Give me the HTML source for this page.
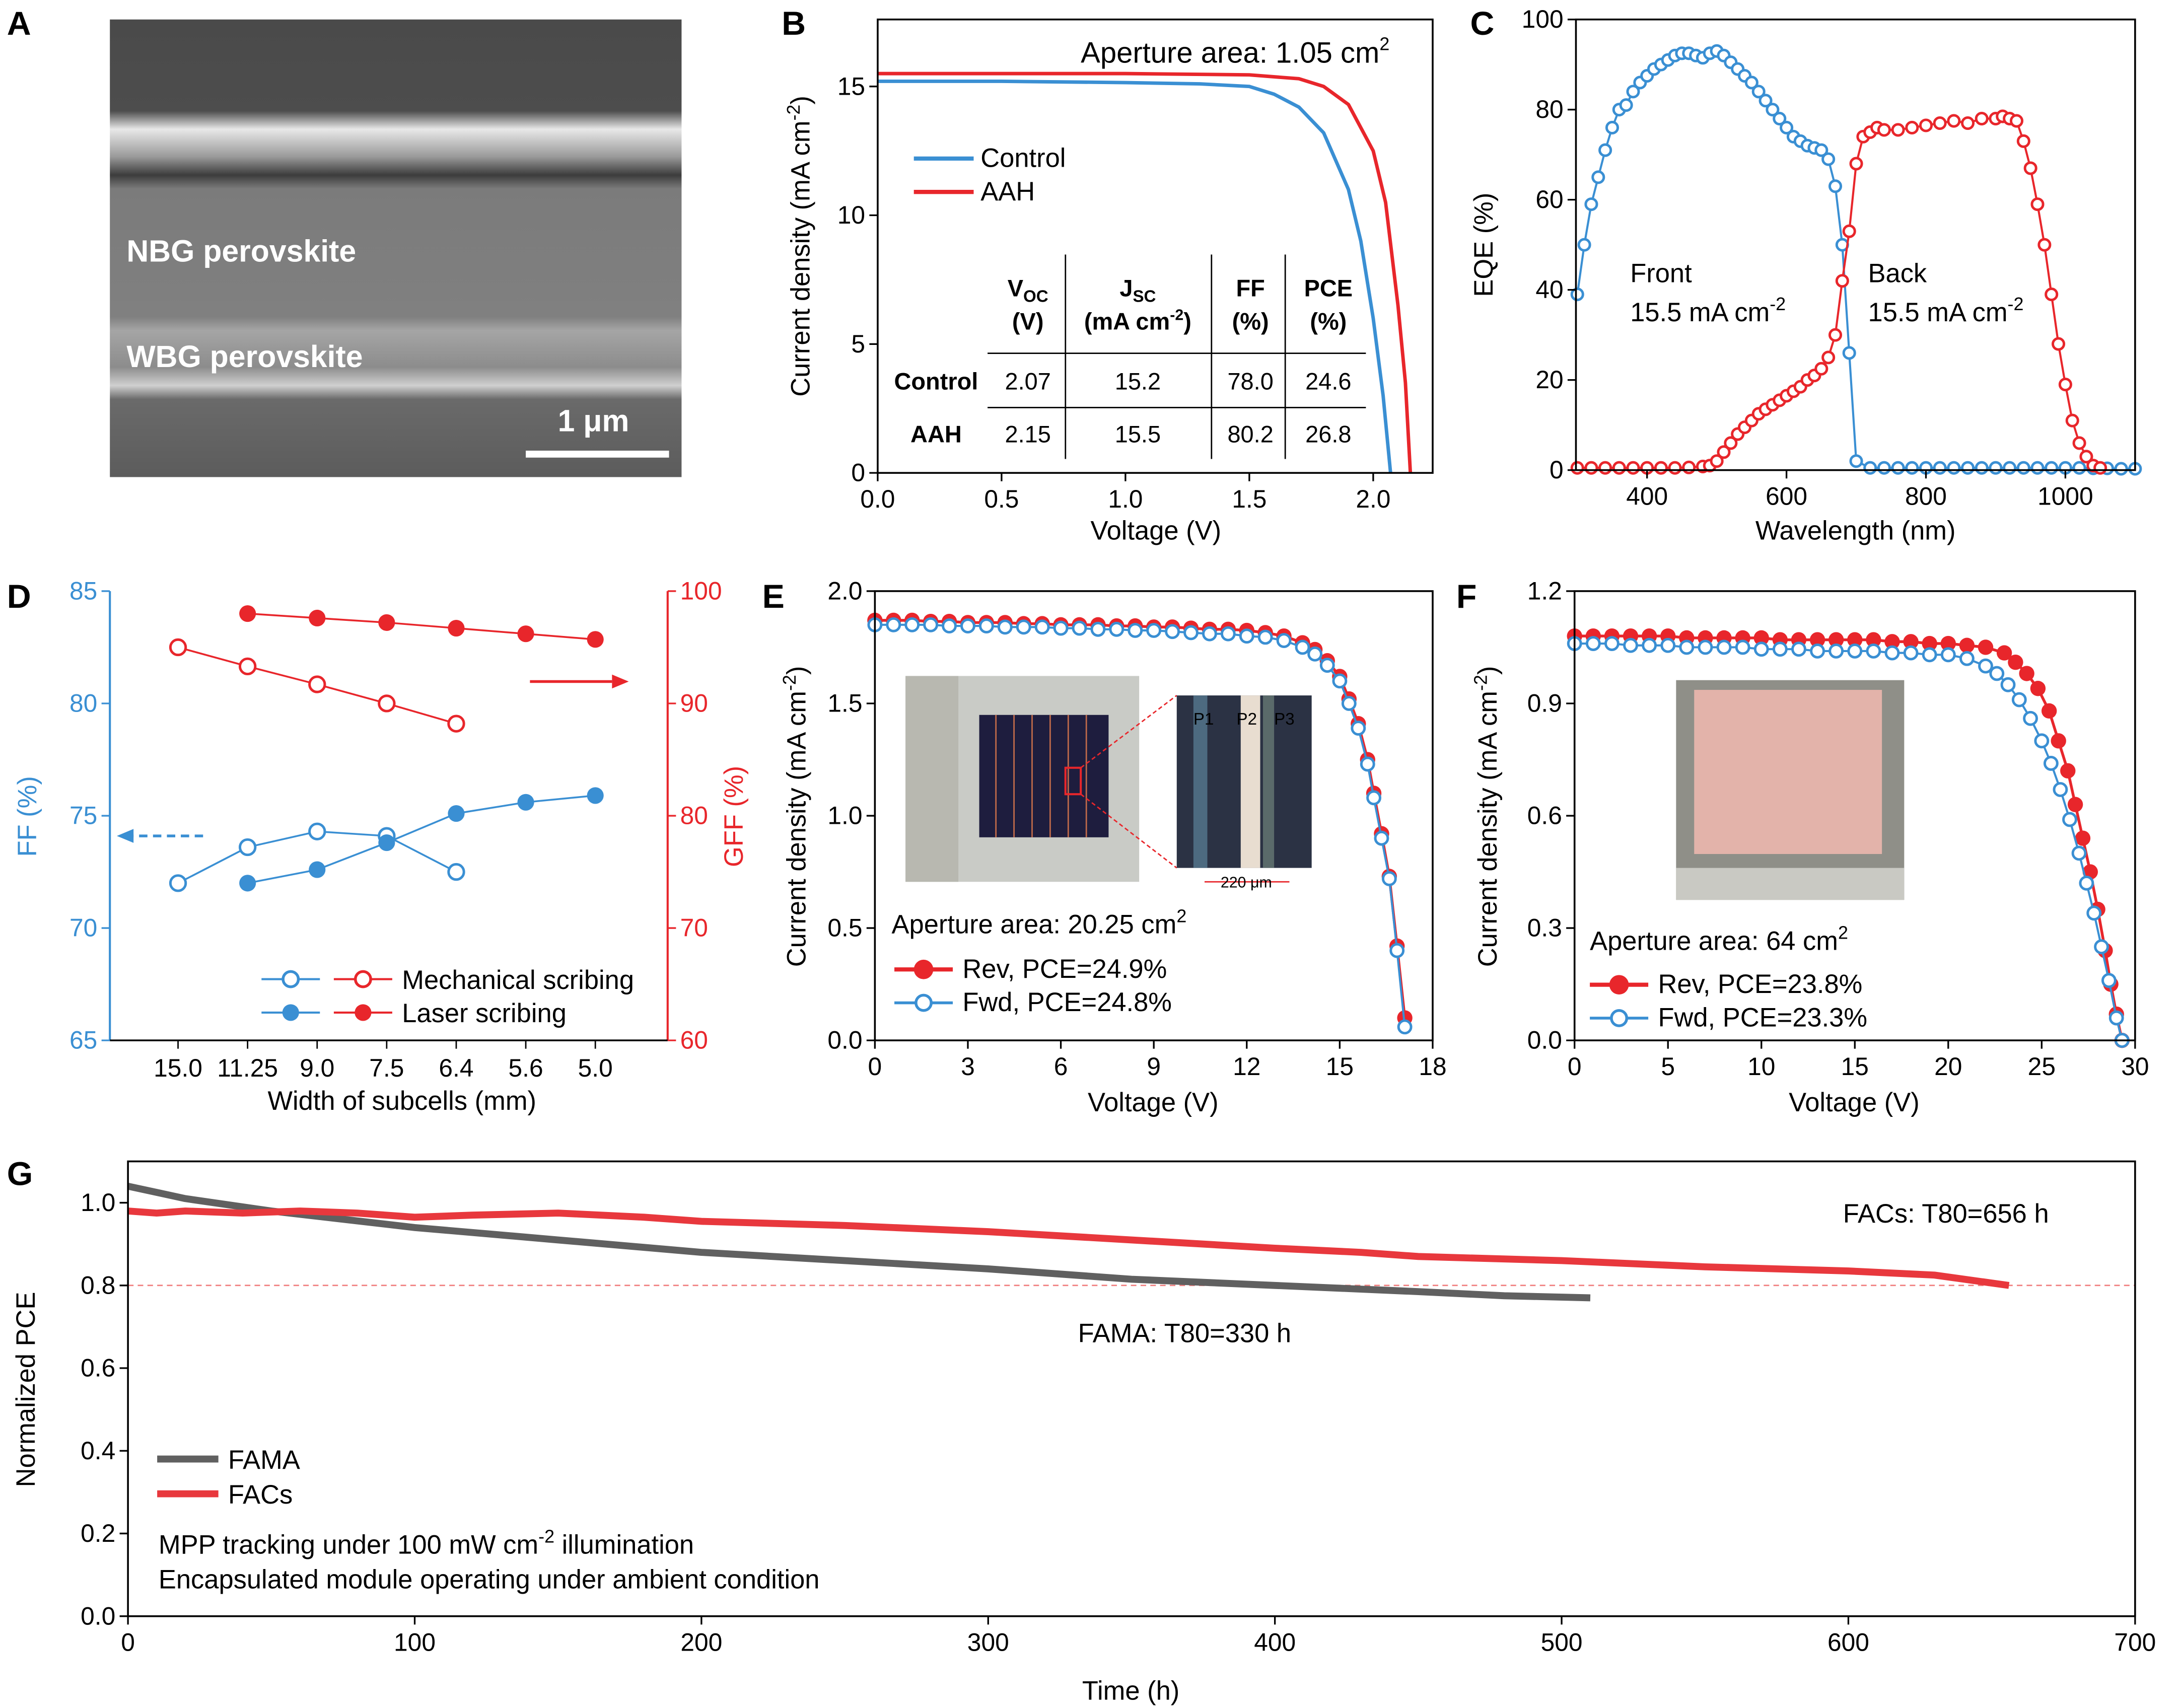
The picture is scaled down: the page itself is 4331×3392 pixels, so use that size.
<!DOCTYPE html>
<html><head><meta charset="utf-8"><style>
html,body{margin:0;padding:0;background:#fff;}
svg{display:block;font-family:"Liberation Sans",Arial,sans-serif;}
</style></head><body>
<svg id="fig" width="4331" height="3392" viewBox="0 0 1568 1228" preserveAspectRatio="none" xmlns="http://www.w3.org/2000/svg">
<defs>
<linearGradient id="semg" x1="0" y1="0" x2="0" y2="1">
<stop offset="0" stop-color="#4a4a4a"/><stop offset="0.2" stop-color="#4d4d4d"/><stop offset="0.24" stop-color="#e8e8e8"/><stop offset="0.3" stop-color="#9a9a9a"/><stop offset="0.34" stop-color="#3c3c3c"/><stop offset="0.37" stop-color="#7b7b7b"/><stop offset="0.65" stop-color="#808080"/><stop offset="0.68" stop-color="#a5a5a5"/><stop offset="0.76" stop-color="#8c8c8c"/><stop offset="0.8" stop-color="#d0d0d0"/><stop offset="0.83" stop-color="#6a6a6a"/><stop offset="1" stop-color="#5c5c5c"/>
</linearGradient>
</defs>
<g font-weight="bold" font-size="24">
<text x="5" y="25">A</text><text x="562" y="25">B</text><text x="1057" y="25">C</text>
<text x="5" y="437">D</text><text x="548" y="437">E</text><text x="1047" y="437">F</text><text x="5" y="852">G</text>
</g>
<g>
<rect x="79" y="14" width="411" height="329" fill="url(#semg)"/>
<text x="91" y="188" fill="#fff" font-size="22" font-weight="bold">NBG perovskite</text>
<text x="91" y="264" fill="#fff" font-size="22" font-weight="bold">WBG perovskite</text>
<text x="401" y="310" fill="#fff" font-size="22" font-weight="bold">1 μm</text>
<rect x="378" y="324" width="103" height="5" fill="#fff"/>
</g>
<g font-size="19">
<text x="777" y="45" font-size="21">Aperture area: 1.05 cm<tspan font-size="13" dy="-9">2</tspan></text>
<line x1="657" y1="114" x2="700" y2="114" stroke="#3a8fd3" stroke-width="3"/><text x="705" y="120">Control</text>
<line x1="657" y1="138" x2="700" y2="138" stroke="#e8262b" stroke-width="3"/><text x="705" y="144">AAH</text>
<g font-size="17" text-anchor="middle">
<text x="739" y="213" font-weight="bold">V<tspan font-size="12" dy="4">OC</tspan></text><text x="739" y="237" font-weight="bold">(V)</text>
<text x="818" y="213" font-weight="bold">J<tspan font-size="12" dy="4">SC</tspan></text><text x="818" y="237" font-weight="bold">(mA cm<tspan font-size="11" dy="-7">-2</tspan><tspan dy="7">)</tspan></text>
<text x="899" y="213" font-weight="bold">FF</text><text x="899" y="237" font-weight="bold">(%)</text>
<text x="955" y="213" font-weight="bold">PCE</text><text x="955" y="237" font-weight="bold">(%)</text>
<text x="673" y="280" font-weight="bold">Control</text><text x="739" y="280">2.07</text><text x="818" y="280">15.2</text><text x="899" y="280">78.0</text><text x="955" y="280">24.6</text>
<text x="673" y="318" font-weight="bold">AAH</text><text x="739" y="318">2.15</text><text x="818" y="318">15.5</text><text x="899" y="318">80.2</text><text x="955" y="318">26.8</text>
</g>
<g stroke="#000" stroke-width="1"><line x1="710" y1="254" x2="982" y2="254"/><line x1="710" y1="293" x2="982" y2="293"/><line x1="766" y1="183" x2="766" y2="330"/><line x1="871" y1="183" x2="871" y2="330"/><line x1="924" y1="183" x2="924" y2="330"/></g>
<text x="831" y="388" text-anchor="middle">Voltage (V)</text>
<text transform="translate(582,177) rotate(-90)" text-anchor="middle">Current density (mA cm<tspan font-size="13" dy="-7">-2</tspan><tspan dy="7">)</tspan></text>
</g>
<g font-size="19">
<text x="1172" y="203">Front</text><text x="1172" y="231">15.5 mA cm<tspan font-size="13" dy="-8">-2</tspan></text>
<text x="1343" y="203">Back</text><text x="1343" y="231">15.5 mA cm<tspan font-size="13" dy="-8">-2</tspan></text>
<text x="1334" y="388" text-anchor="middle">Wavelength (nm)</text>
<text transform="translate(1073,176) rotate(-90)" text-anchor="middle">EQE (%)</text>
</g>
<g font-size="19">
<text x="289" y="798" text-anchor="middle">Width of subcells (mm)</text>
<text transform="translate(26,587) rotate(-90)" text-anchor="middle" fill="#3a8fd3">FF (%)</text>
<text transform="translate(534,587) rotate(-90)" text-anchor="middle" fill="#e8262b">GFF (%)</text>
<line x1="146" y1="601" x2="92" y2="601" stroke="#3a8fd3" stroke-width="2" stroke-dasharray="6,4"/><polygon points="84,601 96,596 96,606" fill="#3a8fd3"/>
<line x1="381" y1="490" x2="440" y2="490" stroke="#e8262b" stroke-width="2"/><polygon points="452,490 440,485 440,495" fill="#e8262b"/>
<line x1="188" y1="704" x2="230" y2="704" stroke="#3a8fd3" stroke-width="1.5"/><circle cx="209" cy="704" r="5.5" fill="#fff" stroke="#3a8fd3" stroke-width="2"/>
<line x1="240" y1="704" x2="282" y2="704" stroke="#e8262b" stroke-width="1.5"/><circle cx="261" cy="704" r="5.5" fill="#fff" stroke="#e8262b" stroke-width="2"/>
<text x="289" y="711">Mechanical scribing</text>
<line x1="188" y1="728" x2="230" y2="728" stroke="#3a8fd3" stroke-width="1.5"/><circle cx="209" cy="728" r="6" fill="#3a8fd3"/>
<line x1="240" y1="728" x2="282" y2="728" stroke="#e8262b" stroke-width="1.5"/><circle cx="261" cy="728" r="6" fill="#e8262b"/>
<text x="289" y="735">Laser scribing</text>
</g>
<g font-size="19">
<rect x="651" y="486" width="168" height="148" fill="#c9cbc6"/><rect x="651" y="486" width="38" height="148" fill="#b8b8b0"/>
<rect x="704" y="514" width="93" height="88" fill="#1e1d3e"/>
<g stroke="#c06a4a" stroke-width="1"><line x1="716" y1="514" x2="716" y2="602"/><line x1="729" y1="514" x2="729" y2="602"/><line x1="742" y1="514" x2="742" y2="602"/><line x1="755" y1="514" x2="755" y2="602"/><line x1="768" y1="514" x2="768" y2="602"/><line x1="781" y1="514" x2="781" y2="602"/></g>
<rect x="766" y="552" width="11" height="19" fill="none" stroke="#e8262b" stroke-width="1.5"/>
<line x1="777" y1="552" x2="846" y2="500" stroke="#e8262b" stroke-dasharray="3,2"/><line x1="777" y1="571" x2="846" y2="624" stroke="#e8262b" stroke-dasharray="3,2"/>
<rect x="846" y="500" width="97" height="124" fill="#2b3244"/><rect x="858" y="500" width="10" height="124" fill="#4d6a80"/><rect x="892" y="500" width="14" height="124" fill="#e8ddd0"/><rect x="908" y="500" width="8" height="124" fill="#5a6a6a"/>
<text x="858" y="521" font-size="12" fill="#000">P1</text><text x="889" y="521" font-size="12">P2</text><text x="916" y="521" font-size="12">P3</text>
<line x1="866" y1="634" x2="927" y2="634" stroke="#e8262b"/><text x="896" y="638" font-size="11" text-anchor="middle" fill="#000">220 μm</text>
<text x="641" y="671">Aperture area: 20.25 cm<tspan font-size="13" dy="-8">2</tspan></text>
<line x1="643" y1="697" x2="685" y2="697" stroke="#e8262b" stroke-width="3"/><circle cx="664" cy="697" r="7" fill="#e8262b"/><text x="692" y="703">Rev, PCE=24.9%</text>
<line x1="643" y1="721" x2="685" y2="721" stroke="#3a8fd3" stroke-width="2"/><circle cx="664" cy="721" r="5.5" fill="#fff" stroke="#3a8fd3" stroke-width="2"/><text x="692" y="727">Fwd, PCE=24.8%</text>
<text x="829" y="799" text-anchor="middle">Voltage (V)</text>
<text transform="translate(579,587) rotate(-90)" text-anchor="middle">Current density (mA cm<tspan font-size="13" dy="-7">-2</tspan><tspan dy="7">)</tspan></text>
</g>
<g font-size="19">
<rect x="1205" y="489" width="164" height="158" fill="#8f8f88"/>
<rect x="1218" y="496" width="135" height="118" fill="#e3b3aa"/>
<rect x="1205" y="624" width="164" height="23" fill="#c9c9c3"/>
<text x="1143" y="683">Aperture area: 64 cm<tspan font-size="13" dy="-8">2</tspan></text>
<line x1="1143" y1="708" x2="1185" y2="708" stroke="#e8262b" stroke-width="3"/><circle cx="1164" cy="708" r="7" fill="#e8262b"/><text x="1192" y="714">Rev, PCE=23.8%</text>
<line x1="1143" y1="732" x2="1185" y2="732" stroke="#3a8fd3" stroke-width="2"/><circle cx="1164" cy="732" r="5.5" fill="#fff" stroke="#3a8fd3" stroke-width="2"/><text x="1192" y="738">Fwd, PCE=23.3%</text>
<text x="1333" y="799" text-anchor="middle">Voltage (V)</text>
<text transform="translate(1076,587) rotate(-90)" text-anchor="middle">Current density (mA cm<tspan font-size="13" dy="-7">-2</tspan><tspan dy="7">)</tspan></text>
</g>
<g font-size="19">
<text x="1325" y="879">FACs: T80=656 h</text>
<text x="775" y="965">FAMA: T80=330 h</text>
<line x1="113" y1="1049" x2="157" y2="1049" stroke="#606060" stroke-width="5"/><text x="164" y="1056">FAMA</text>
<line x1="113" y1="1074" x2="157" y2="1074" stroke="#e8383d" stroke-width="5"/><text x="164" y="1081">FACs</text>
<text x="114" y="1117">MPP tracking under 100 mW cm<tspan font-size="13" dy="-8">-2</tspan><tspan dy="8"> illumination</tspan></text>
<text x="114" y="1142">Encapsulated module operating under ambient condition</text>
<text x="813" y="1222" text-anchor="middle">Time (h)</text>
<text transform="translate(25,999) rotate(-90)" text-anchor="middle">Normalized PCE</text>
</g>
<g id="marks"></g>
</svg>
<script>
const bCtrlV=[0,0.5,1.0,1.3,1.5,1.6,1.7,1.8,1.9,1.95,2.0,2.04,2.07];
const bCtrlJ=[15.2,15.2,15.15,15.1,15.0,14.7,14.2,13.2,11.0,9.0,6.0,3.0,0];
const bAahV=[0,0.5,1.0,1.5,1.7,1.8,1.9,2.0,2.05,2.1,2.13,2.15];
const bAahJ=[15.5,15.5,15.5,15.45,15.3,15.0,14.3,12.5,10.5,6.5,3.5,0];
const bXTicks=[0,0.5,1.0,1.5,2.0];
const bYTicks=[0,5,10,15];
const cFrontWl=[300,310,320,330,340,350,360,370,380,390,400,410,420,430,440,450,460,470,480,490,500,510,520,530,540,550,560,570,580,590,600,610,620,630,640,650,660,670,680,690,700,720,740,760,780,800,820,840,860,880,900,920,940,960,980,1000,1020,1040,1060,1080,1100];
const cFrontEqe=[39,50,59,65,71,76,80,81,84,86,87.5,89,90,91,92,92.5,92.5,92,91.5,92.5,93,92,90.5,89,87.5,86,84,82,80,78,76,74,73,72,71.5,71,69,63,50,26,2,0.5,0.5,0.5,0.5,0.5,0.5,0.5,0.5,0.5,0.5,0.5,0.5,0.5,0.5,0.5,0.5,0.4,0.4,0.3,0.3];
const cBackWl=[300,320,340,360,380,400,420,440,460,480,490,500,510,520,530,540,550,560,570,580,590,600,610,620,630,640,650,660,670,680,690,700,710,720,730,740,760,780,800,820,840,860,880,900,910,920,930,940,950,960,970,980,990,1000,1010,1020,1030,1040,1050];
const cBackEqe=[0.5,0.5,0.5,0.5,0.5,0.5,0.5,0.5,0.6,0.8,1,2,4,6,8,9.5,11,12.5,13.5,14.5,15.5,16.5,17.5,18.5,20,21,22.5,25,30,42,53,68,74,75,76,75.5,75.5,76,76.5,77,77.5,77,78,78,78.5,78,77.5,73,67,59,50,39,28,19,11,6,3,1,0.5];
const cXTicks=[400,600,800,1000];
const cYTicks=[0,20,40,60,80,100];
const dCats=["15.0","11.25","9.0","7.5","6.4","5.6","5.0"];
const dMechFF=[72.0,73.6,74.3,74.1,72.5];
const dLaserFF=[null,72.0,72.6,73.8,75.1,75.6,75.9];
const dMechGFF=[95.0,93.3,91.7,90.0,88.2];
const dLaserGFF=[null,98.0,97.6,97.2,96.7,96.2,95.7];
const dFFTicks=[65,70,75,80,85];
const dGFFTicks=[60,70,80,90,100];
const eRevV=[0,0.6,1.2,1.8,2.4,3,3.6,4.2,4.8,5.4,6,6.6,7.2,7.8,8.4,9,9.6,10.2,10.8,11.4,12,12.6,13.2,13.8,14.2,14.6,15,15.3,15.6,15.9,16.1,16.35,16.6,16.85,17.1];
const eRevJ=[1.87,1.87,1.87,1.865,1.865,1.86,1.86,1.86,1.855,1.855,1.85,1.85,1.85,1.845,1.845,1.84,1.84,1.835,1.83,1.83,1.825,1.815,1.8,1.77,1.74,1.69,1.62,1.52,1.41,1.25,1.1,0.92,0.73,0.42,0.1];
const eFwdV=[0,0.6,1.2,1.8,2.4,3,3.6,4.2,4.8,5.4,6,6.6,7.2,7.8,8.4,9,9.6,10.2,10.8,11.4,12,12.6,13.2,13.8,14.2,14.6,15,15.3,15.6,15.9,16.1,16.35,16.6,16.85,17.1];
const eFwdJ=[1.85,1.85,1.85,1.85,1.845,1.845,1.845,1.84,1.84,1.84,1.835,1.835,1.83,1.83,1.825,1.825,1.82,1.815,1.81,1.81,1.8,1.795,1.78,1.75,1.72,1.67,1.6,1.5,1.39,1.23,1.08,0.9,0.72,0.4,0.06];
const eXTicks=[0,3,6,9,12,15,18];
const eYTicks=[0,0.5,1.0,1.5,2.0];
const fRevV=[0,1,2,3,4,5,6,7,8,9,10,11,12,13,14,15,16,17,18,19,20,21,22,23,23.6,24.2,24.8,25.4,25.9,26.4,26.8,27.2,27.6,28,28.4,28.7,29,29.3];
const fRevJ=[1.08,1.08,1.08,1.08,1.08,1.08,1.075,1.075,1.075,1.075,1.075,1.07,1.07,1.07,1.07,1.07,1.07,1.065,1.065,1.06,1.06,1.055,1.05,1.035,1.01,0.98,0.94,0.88,0.8,0.72,0.63,0.54,0.45,0.35,0.24,0.15,0.07,0];
const fFwdV=[0,1,2,3,4,5,6,7,8,9,10,11,12,13,14,15,16,17,18,19,20,21,22,22.6,23.2,23.8,24.4,25,25.5,26,26.5,27,27.4,27.8,28.2,28.6,29,29.3];
const fFwdJ=[1.06,1.06,1.06,1.055,1.055,1.055,1.05,1.05,1.05,1.05,1.045,1.045,1.045,1.04,1.04,1.04,1.04,1.035,1.035,1.03,1.03,1.02,1.0,0.98,0.95,0.91,0.86,0.8,0.74,0.67,0.59,0.5,0.42,0.34,0.25,0.16,0.06,0];
const fXTicks=[0,5,10,15,20,25,30];
const fYTicks=[0,0.3,0.6,0.9,1.2];
const gFamaT=[0,10,20,35,50,75,100,125,150,200,250,300,350,400,450,480,510];
const gFamaP=[1.04,1.025,1.01,0.995,0.98,0.96,0.94,0.925,0.91,0.88,0.86,0.84,0.815,0.80,0.785,0.775,0.77];
const gFacsT=[0,10,20,40,60,80,100,120,150,180,200,250,300,350,400,430,450,500,550,600,630,656];
const gFacsP=[0.98,0.975,0.98,0.975,0.98,0.975,0.965,0.97,0.975,0.965,0.955,0.945,0.93,0.91,0.89,0.88,0.87,0.86,0.845,0.835,0.825,0.80];
const gXTicks=[0,100,200,300,400,500,600,700];
const gYTicks=[0,0.2,0.4,0.6,0.8,1.0];

const NS="http://www.w3.org/2000/svg";
const root=document.getElementById('marks');
function el(tag,a,p){const e=document.createElementNS(NS,tag);for(const k in a)e.setAttribute(k,a[k]);(p||root).appendChild(e);return e;}
function lin(d0,d1,p0,p1){return v=>p0+(v-d0)/(d1-d0)*(p1-p0);}
function fmt(v,dec){return v.toFixed(dec);}
function frame(x0,y0,x1,y1,name){const r=el('rect',{x:x0,y:y0,width:x1-x0,height:y1-y0,fill:'none',stroke:'#000','stroke-width':1.3});

}
function xticks(ticks,sx,y,dec,name){const g=el('g',{});


ticks.forEach(t=>{el('line',{x1:sx(t),x2:sx(t),y1:y,y2:y+6,stroke:'#000','stroke-width':1.2},g);const tx=el('text',{x:sx(t),y:y+25,'text-anchor':'middle','font-size':18},g);tx.textContent=fmt(t,dec);});}
function yticks(ticks,sy,x,dec,name,color,right){const g=el('g',{});


ticks.forEach(t=>{el('line',{x1:x,x2:right?x+6:x-6,y1:sy(t),y2:sy(t),stroke:color||'#000','stroke-width':1.2},g);const tx=el('text',{x:right?x+9:x-9,y:sy(t)+6,'text-anchor':right?'start':'end','font-size':18,fill:color||'#000'},g);tx.textContent=fmt(t,dec);});}
function line(xs,ys,sx,sy,color,w,name){const pts=xs.map((x,i)=>ys[i]==null?null:sx(x)+','+sy(ys[i])).filter(p=>p).join(' ');const p=el('polyline',{points:pts,fill:'none',stroke:color,'stroke-width':w,'stroke-linejoin':'round'});


return p;}
function dots(xs,ys,sx,sy,color,r,filled,name){const g=el('g',{});


xs.forEach((x,i)=>{if(ys[i]==null)return;el('circle',{cx:sx(x),cy:sy(ys[i]),r:r,fill:filled?color:'#fff',stroke:color,'stroke-width':filled?0:1.8},g);});}

{const sx=lin(0,2.24,631,1030),sy=lin(0,17.6,340,14);
line(bCtrlV,bCtrlJ,sx,sy,'#3a8fd3',2.5,'control-jv-curve');
line(bAahV,bAahJ,sx,sy,'#e8262b',2.5,'aah-jv-curve');
frame(631,14,1030,340,'panel-b-axes');
xticks(bXTicks,sx,340,1,'panel-b-x-ticks');yticks(bYTicks,sy,631,0,'panel-b-y-ticks');}
{const sx=lin(298,1100,1133,1535),sy=lin(0,100,338,14);
line(cFrontWl,cFrontEqe,sx,sy,'#3a8fd3',1.5,'front-eqe-line');dots(cFrontWl,cFrontEqe,sx,sy,'#3a8fd3',4,false,'front-eqe-points');
line(cBackWl,cBackEqe,sx,sy,'#e8262b',1.5,'back-eqe-line');dots(cBackWl,cBackEqe,sx,sy,'#e8262b',4,false,'back-eqe-points');
frame(1133,14,1535,338,'panel-c-axes');
xticks(cXTicks,sx,338,0,'panel-c-x-ticks');yticks(cYTicks,sy,1133,0,'panel-c-y-ticks');}
{const idx=dCats.map((c,i)=>i);const sx=lin(0,6,128,428),sff=lin(65,85,748,425),sg=lin(60,100,748,425);
line(idx,dMechFF,sx,sff,'#3a8fd3',1.3,'mech-ff-line');dots(idx,dMechFF,sx,sff,'#3a8fd3',5.5,false,'mech-ff-points');
line(idx,dLaserFF,sx,sff,'#3a8fd3',1.3,'laser-ff-line');dots(idx,dLaserFF,sx,sff,'#3a8fd3',6,true,'laser-ff-points');
line(idx,dMechGFF,sx,sg,'#e8262b',1.3,'mech-gff-line');dots(idx,dMechGFF,sx,sg,'#e8262b',5.5,false,'mech-gff-points');
line(idx,dLaserGFF,sx,sg,'#e8262b',1.3,'laser-gff-line');dots(idx,dLaserGFF,sx,sg,'#e8262b',6,true,'laser-gff-points');
el('line',{x1:79,x2:79,y1:425,y2:748,stroke:'#3a8fd3','stroke-width':1.5});el('line',{x1:480,x2:480,y1:425,y2:748,stroke:'#e8262b','stroke-width':1.5});el('line',{x1:79,x2:480,y1:748,y2:748,stroke:'#000','stroke-width':1.3});
const g=el('g',{});


dCats.forEach((c,i)=>{el('line',{x1:sx(i),x2:sx(i),y1:748,y2:754,stroke:'#000'},g);const t=el('text',{x:sx(i),y:774,'text-anchor':'middle','font-size':18},g);t.textContent=c;});
yticks(dFFTicks,sff,79,0,'panel-d-ff-ticks','#3a8fd3');yticks(dGFFTicks,sg,480,0,'panel-d-gff-ticks','#e8262b',true);}
{const sx=lin(0,18,629,1030),sy=lin(0,2,748,425);
line(eRevV,eRevJ,sx,sy,'#e8262b',2,'rev-jv-line');dots(eRevV,eRevJ,sx,sy,'#e8262b',5.5,true,'rev-jv-points');
line(eFwdV,eFwdJ,sx,sy,'#3a8fd3',1.5,'fwd-jv-line');dots(eFwdV,eFwdJ,sx,sy,'#3a8fd3',4.5,false,'fwd-jv-points');
frame(629,425,1030,748,'panel-e-axes');
xticks(eXTicks,sx,748,0,'panel-e-x-ticks');yticks(eYTicks,sy,629,1,'panel-e-y-ticks');}
{const sx=lin(0,30,1132,1535),sy=lin(0,1.2,748,425);
line(fRevV,fRevJ,sx,sy,'#e8262b',2,'f-rev-jv-line');dots(fRevV,fRevJ,sx,sy,'#e8262b',5.5,true,'f-rev-jv-points');
line(fFwdV,fFwdJ,sx,sy,'#3a8fd3',1.5,'f-fwd-jv-line');dots(fFwdV,fFwdJ,sx,sy,'#3a8fd3',4.5,false,'f-fwd-jv-points');
frame(1132,425,1535,748,'panel-f-axes');
xticks(fXTicks,sx,748,0,'panel-f-x-ticks');yticks(fYTicks,sy,1132,1,'panel-f-y-ticks');}
{const sx=lin(0,700,92,1535),sy=lin(0,1.1,1162,835);
const t80=el('line',{x1:92,x2:1535,y1:sy(0.8),y2:sy(0.8),stroke:'#f08080','stroke-width':1,'stroke-dasharray':'4,3'});


line(gFamaT,gFamaP,sx,sy,'#606060',5,'fama-stability-curve');
line(gFacsT,gFacsP,sx,sy,'#e8383d',5,'facs-stability-curve');
frame(92,835,1535,1162,'panel-g-axes');
xticks(gXTicks,sx,1162,0,'panel-g-x-ticks');yticks(gYTicks,sy,92,1,'panel-g-y-ticks');}
</script>
</body></html>
